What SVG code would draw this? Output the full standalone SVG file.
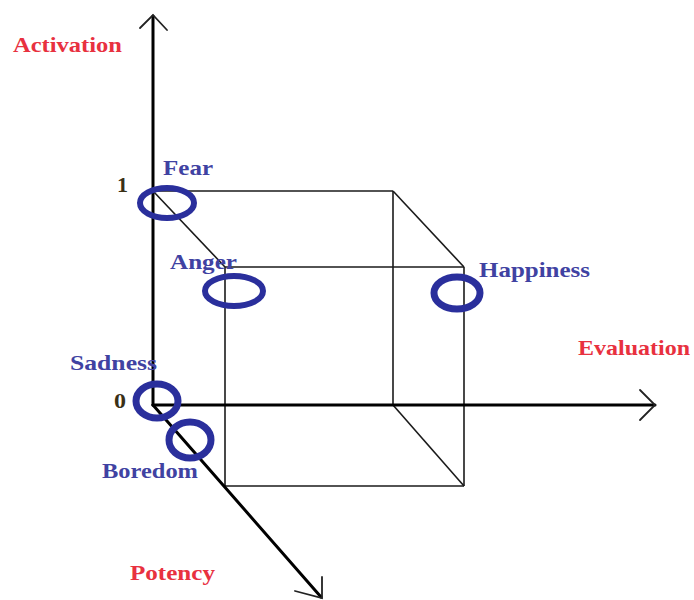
<svg xmlns="http://www.w3.org/2000/svg" width="694" height="600" viewBox="0 0 694 600">
<style>
.axis{stroke:#000;stroke-width:3;fill:none;stroke-linecap:round}
.head{stroke:#222;stroke-width:1.8;fill:none;stroke-linecap:round}
.cube{stroke:#1a1a1a;stroke-width:1.6;fill:none}
.ring{stroke:#2a2f9c;fill:none}
.lbl{font-family:"Liberation Serif","Times New Roman",serif;font-weight:bold;font-size:22px}
.blue{fill:#4042a2}
.red{fill:#e8313f}
.num{fill:#3a3016}
</style>
<rect width="694" height="600" fill="#fff"/>
<g id="connectors">
<g id="cube">
<line class="cube" x1="153" y1="191" x2="393" y2="191"/>
<line class="cube" x1="393" y1="191" x2="393" y2="405"/>
<line class="cube" x1="153" y1="191" x2="225" y2="267"/>
<line class="cube" x1="393" y1="191" x2="464" y2="267"/>
<line class="cube" x1="393" y1="405" x2="464" y2="486"/>
<line class="cube" x1="225" y1="267" x2="464" y2="267"/>
<line class="cube" x1="225" y1="267" x2="225" y2="486"/>
<line class="cube" x1="464" y1="267" x2="464" y2="486"/>
<line class="cube" x1="225" y1="486" x2="464" y2="486"/>
</g>
<g id="axis-activation">
<line class="axis" x1="153" y1="405" x2="153" y2="16"/>
<polyline class="head" points="140,28 153,15 167,30"/>
</g>
<g id="axis-evaluation">
<line class="axis" x1="153" y1="405" x2="655" y2="405"/>
<polyline class="head" points="640,390 655,405 640,420"/>
</g>
<g id="axis-potency">
<line class="axis" x1="153" y1="405" x2="321" y2="597"/>
<polyline class="head" points="295,591 322,598 322,577"/>
</g>
</g>
<g id="node-fear">
<ellipse class="ring" cx="167" cy="203" rx="27" ry="15" stroke-width="6"/>
<text class="lbl blue" x="163" y="175" textLength="50" lengthAdjust="spacingAndGlyphs">Fear</text>
</g>
<g id="node-anger">
<ellipse class="ring" cx="234" cy="291" rx="29" ry="15" stroke-width="6"/>
<text class="lbl blue" x="170" y="269" textLength="67" lengthAdjust="spacingAndGlyphs">Anger</text>
</g>
<g id="node-happiness">
<ellipse class="ring" cx="457" cy="293" rx="23" ry="16" stroke-width="7"/>
<text class="lbl blue" x="479" y="277" textLength="111" lengthAdjust="spacingAndGlyphs">Happiness</text>
</g>
<g id="node-sadness">
<ellipse class="ring" cx="157" cy="401" rx="21" ry="17" stroke-width="7"/>
<text class="lbl blue" x="70" y="370" textLength="87" lengthAdjust="spacingAndGlyphs">Sadness</text>
</g>
<g id="node-boredom">
<ellipse class="ring" cx="190" cy="440" rx="21" ry="18" stroke-width="7"/>
<text class="lbl blue" x="102" y="478" textLength="96" lengthAdjust="spacingAndGlyphs">Boredom</text>
</g>
<g id="labels">
<text class="lbl red" x="13" y="52" textLength="109" lengthAdjust="spacingAndGlyphs">Activation</text>
<text class="lbl red" x="578" y="355" textLength="112" lengthAdjust="spacingAndGlyphs">Evaluation</text>
<text class="lbl red" x="130" y="580" textLength="85" lengthAdjust="spacingAndGlyphs">Potency</text>
<text class="lbl num" x="117" y="192" textLength="11" lengthAdjust="spacingAndGlyphs">1</text>
<text class="lbl num" x="114" y="408" textLength="12" lengthAdjust="spacingAndGlyphs">0</text>
</g>
</svg>
